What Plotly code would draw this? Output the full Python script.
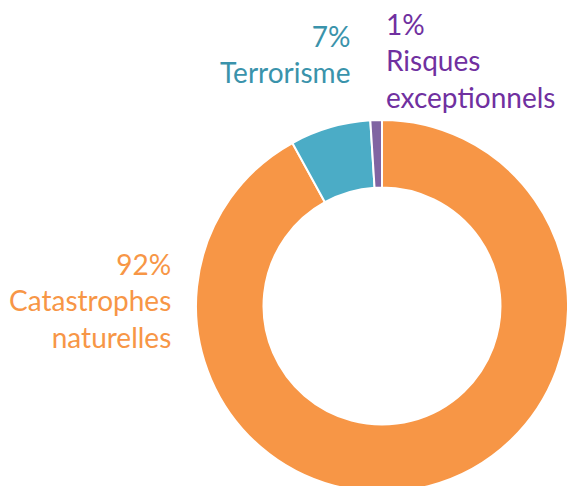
import plotly.graph_objects as go

categories = ["Catastrophes naturelles", "Terrorisme", "Risques exceptionnels"]
values = [92, 7, 1]
# zero-width non-joiner avoids the "ti" ligature of the font
label_lines = ["Catastrophes<br>naturelles", "Terrorisme", "Risques<br>excep\u200ctionnels"]
slice_colors = ["#F79646", "#4BACC6", "#8064A2"]
text_colors = ["#F79646", "#3A93AB", "#7030A0"]

# page layout (pixels)
L, T, S = 196, 120, 372
W, H = L + S, T + S

fig = go.Figure(go.Pie(
    labels=categories,
    values=values,
    hole=0.637,
    sort=False,
    direction="clockwise",
    rotation=0,
    marker=dict(colors=slice_colors, line=dict(color="white", width=2)),
    textinfo="none",
    hoverinfo="label+percent",
    showlegend=False,
))

def px(x):
    return (x - L) / S

def py(y):
    return 1 - (y - T) / S

total = sum(values)
pct = [round(v * 100 / total) for v in values]

# label placement: (x_px, y_px, xanchor)
placements = [(173, 300, "right"), (352, 54, "right"), (384, 61, "left")]
for i in range(3):
    x, y, xa = placements[i]
    fig.add_annotation(
        x=px(x), y=py(y), xref="paper", yref="paper",
        xanchor=xa, yanchor="middle", align=xa,
        text=f"{pct[i]}%<br>{label_lines[i]}",
        showarrow=False,
        font=dict(family="Lato", size=28, color=text_colors[i]),
    )

fig.update_layout(
    width=W, height=H,
    margin=dict(l=L, r=0, t=T, b=0, pad=0),
    paper_bgcolor="white", plot_bgcolor="white",
)

fig.write_html(
    "out.html",
    config={"displayModeBar": False},
    post_script="document.body.style.margin='0';document.body.style.overflow='hidden';document.documentElement.style.overflow='hidden';",
)
